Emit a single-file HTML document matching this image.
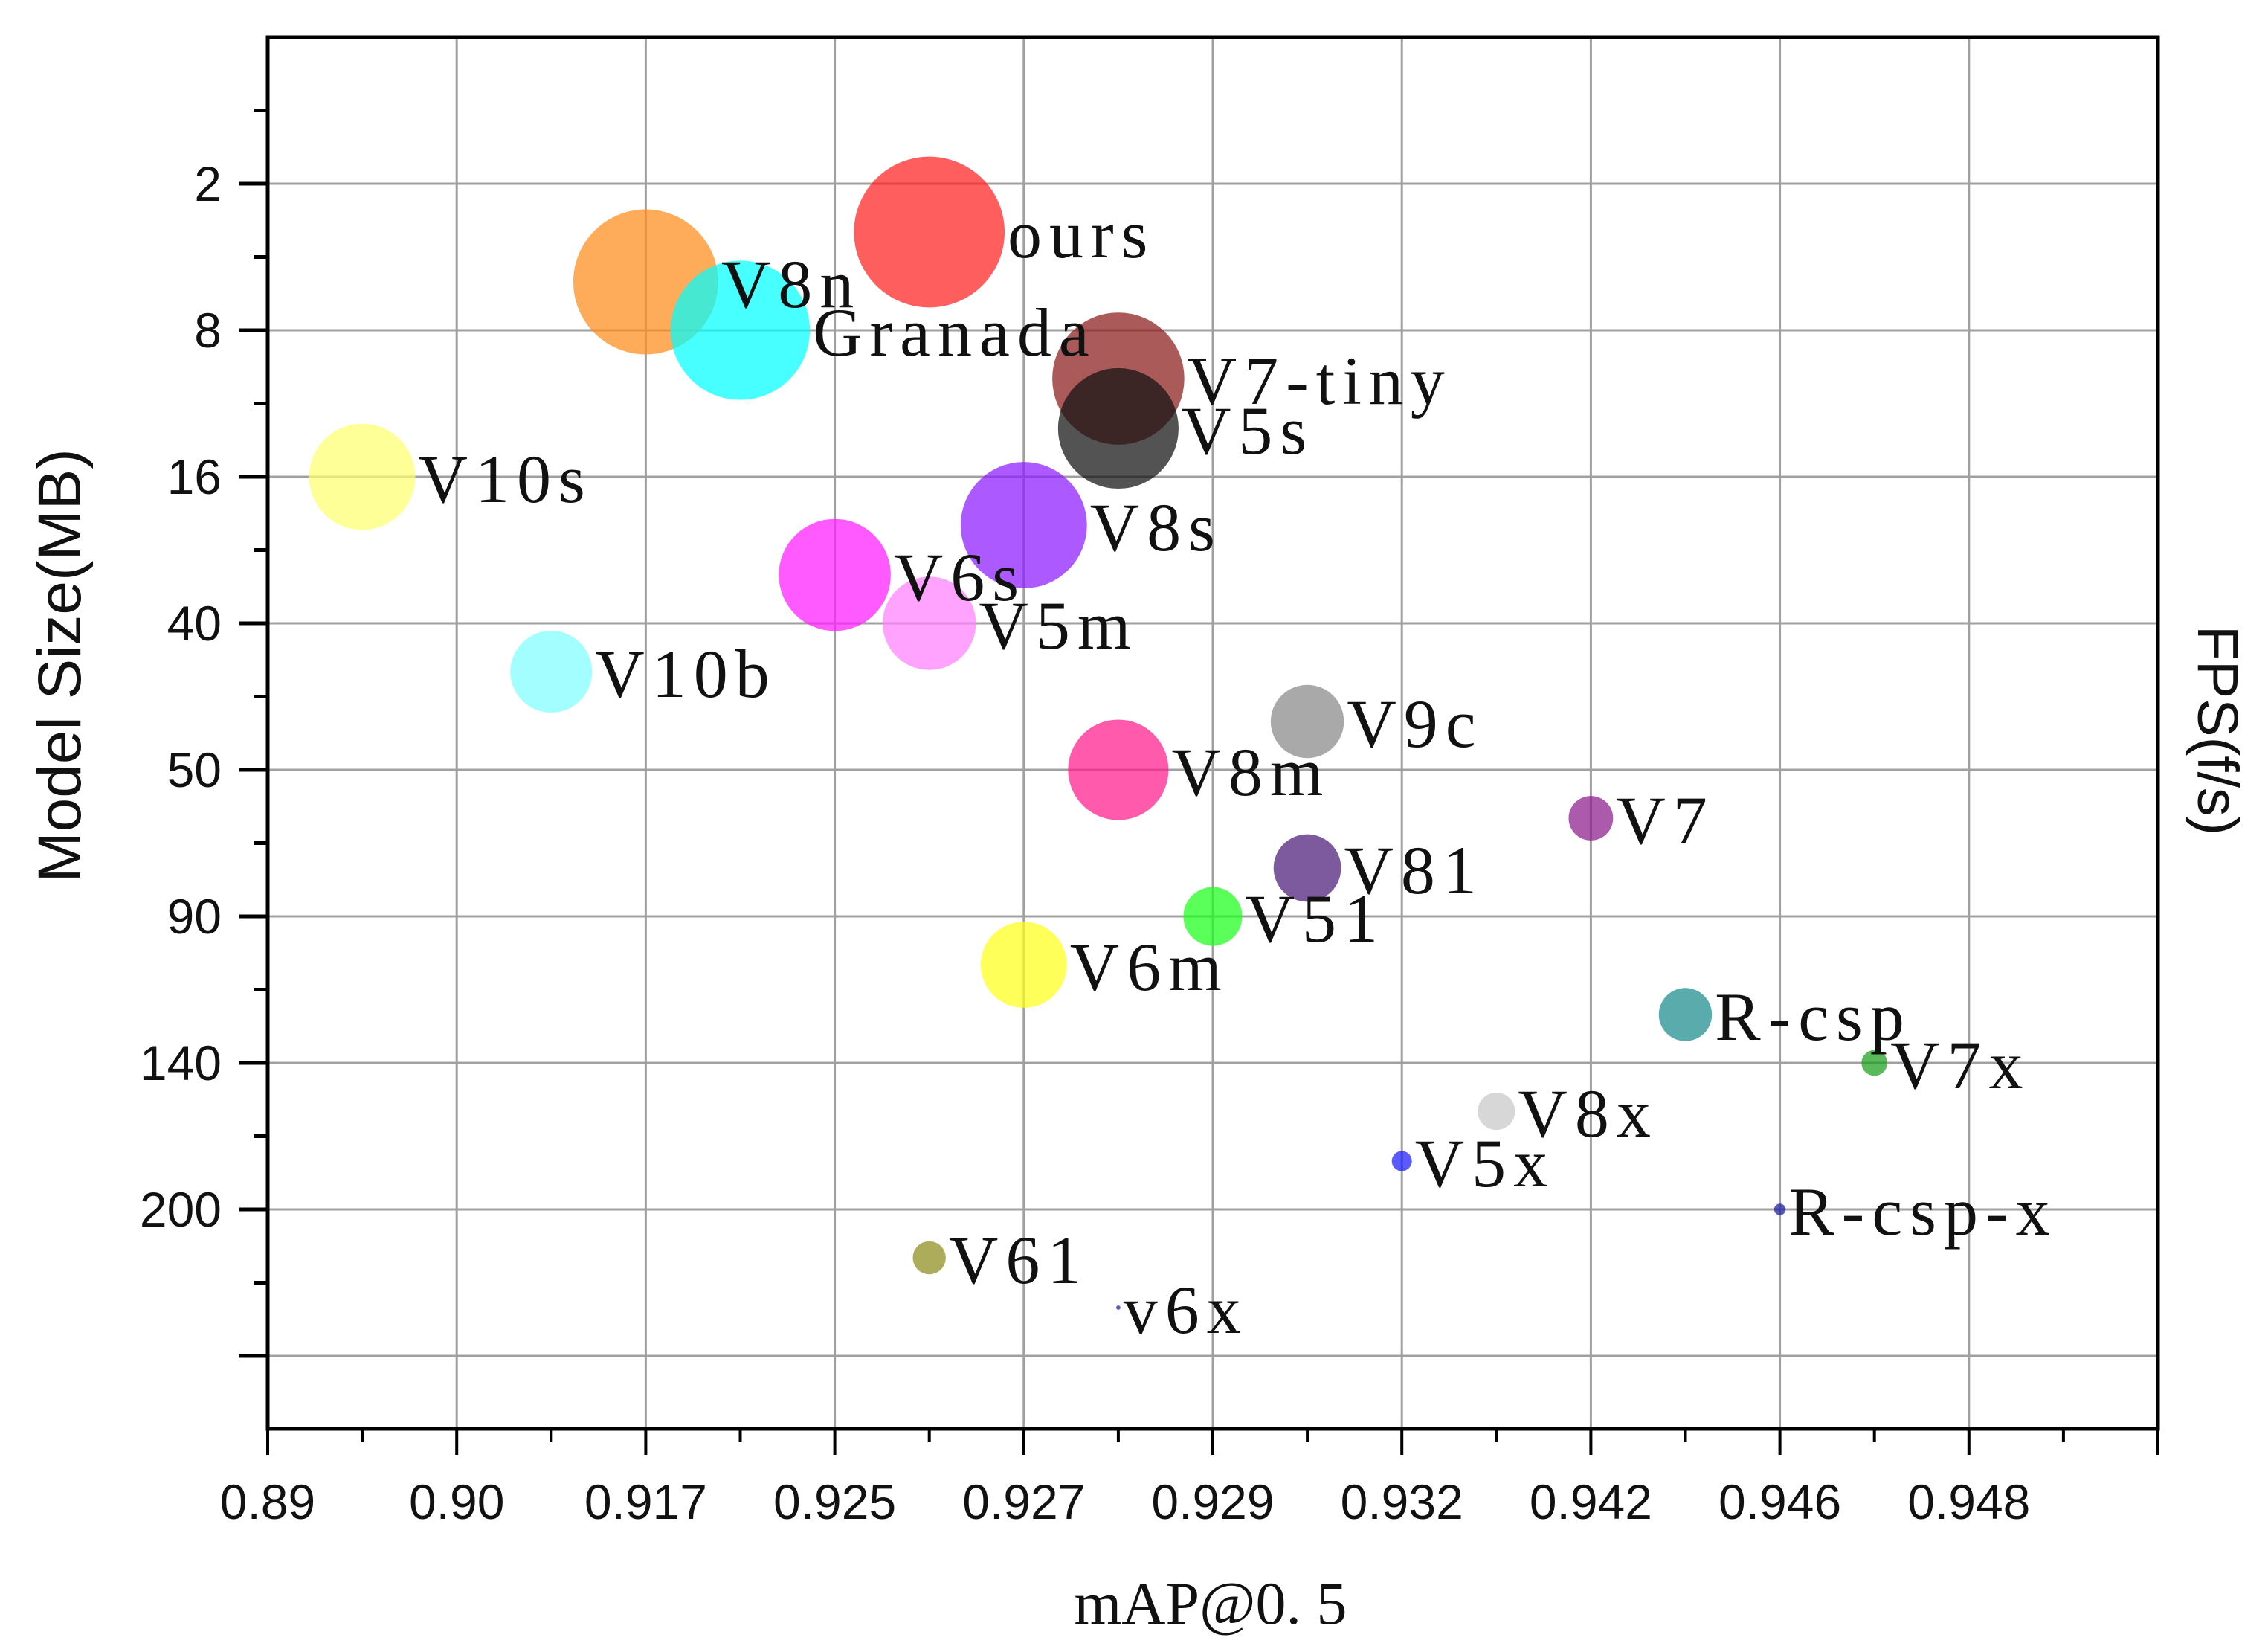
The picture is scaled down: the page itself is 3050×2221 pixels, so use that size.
<!DOCTYPE html>
<html><head><meta charset="utf-8"><style>
html,body{margin:0;padding:0;background:#fff;}
svg{display:block;}
</style></head><body>
<svg id="chart" width="3050" height="2221" viewBox="0 0 3050 2221" xmlns="http://www.w3.org/2000/svg">
<g id="grid"></g>
<g id="bubbles"></g>
<g id="labels"></g>
<g id="axes"></g>
<text transform="translate(108,895) rotate(-90)" text-anchor="middle" font-family="Liberation Sans, sans-serif" font-size="82" fill="#111">Model Size(MB)</text>
<text transform="translate(2956,982) rotate(90)" text-anchor="middle" font-family="Liberation Sans, sans-serif" font-size="77" fill="#111">FPS(f/s)</text>
<text x="1628" y="2183" text-anchor="middle" font-family="Liberation Serif, serif" font-size="82" fill="#111">mAP@0. 5</text>
</svg>
<script>
const xTickLabels = ["0.89","0.90","0.917","0.925","0.927","0.929","0.932","0.942","0.946","0.948"];
const yTickLabels = ["2","8","16","40","50","90","140","200"];
const names = ["ours","V8n","Granada","V7-tiny","V5s","V10s","V8s","V6s","V5m","V10b","V9c","V8m","V7","V81","V51","V6m","R-csp","V7x","V8x","V5x","R-csp-x","V61","v6x"];
const xIdx = [3.5,2.0,2.5,4.5,4.5,0.5,4.0,3.0,3.5,1.5,5.5,4.5,7.0,5.5,5.0,4.0,7.5,8.5,6.5,6.0,8.0,3.5,4.5];
const yIdx = [1.33,1.67,2.0,2.33,2.67,3.0,3.33,3.67,4.0,4.33,4.67,5.0,5.33,5.67,6.0,6.33,6.67,7.0,7.33,7.67,8.0,8.33,8.67];
const fps = [105,101,97,92,84,74,88,78,65,57,51,70,31,47,41,60,37,18,26,14,8,23,3];
const colors = ["#ff2020","#ff8c1a","#00ffff","#8b1a1a","#111111","#ffff70","#8c1aff","#ff1aff","#ff80ff","#80ffff","#888888","#ff1a8c","#8c1a8c","#4b1a78","#1aff1a","#ffff1a","#1a8c8c","#1a9e1a","#c8c8c8","#1a1aff","#1a1a9e","#8c8c1a","#1a1a9e"];

const L=360,R=2902,T=50,B=1921,XS=254.2,YS=197;
const xPos=i=>L+i*XS;
const yPos=k=>T+k*YS;
const rad=v=>v*0.965;
const NS="http://www.w3.org/2000/svg";
function mk(tag,attrs,parent){const e=document.createElementNS(NS,tag);for(const k in attrs)e.setAttribute(k,attrs[k]);parent.appendChild(e);return e;}
const grid=document.getElementById('grid'),axes=document.getElementById('axes'),bub=document.getElementById('bubbles'),lab=document.getElementById('labels');

for(let i=1;i<=9;i++){
  const g=mk('line',{x1:xPos(i),x2:xPos(i),y1:T,y2:B,stroke:'#a0a0a0','stroke-width':3},grid);
  
  
}
for(let k=1;k<=9;k++){
  const g=mk('line',{x1:L,x2:R,y1:yPos(k),y2:yPos(k),stroke:'#a0a0a0','stroke-width':3},grid);
  
  
}
for(let i=0;i<names.length;i++){
  const c=mk('circle',{cx:xPos(xIdx[i]),cy:yPos(yIdx[i]),r:rad(fps[i]),fill:colors[i],'fill-opacity':0.72},bub);
  
  
  const t=mk('text',{x:xPos(xIdx[i])+rad(fps[i])+4,y:yPos(yIdx[i])+34,'font-family':'Liberation Serif, serif','font-size':92,'letter-spacing':10,fill:'#111'},lab);
  t.textContent=names[i];
  
  
}
[[L,T,R,T],[L,B,R,B],[L,T,L,B],[R,T,R,B]].forEach(a=>{
  const l=mk('line',{x1:a[0],y1:a[1],x2:a[2],y2:a[3],stroke:'#000','stroke-width':5,'stroke-linecap':'square'},axes);
  
  
});
for(let h=0;h<=20;h++){
  const i=h/2,len=(h%2===0)?35:18;
  const t=mk('line',{x1:xPos(i),x2:xPos(i),y1:B,y2:B+len,stroke:'#000','stroke-width':4},axes);
  
  
}
xTickLabels.forEach((s,i)=>{
  const t=mk('text',{x:xPos(i),y:2042,'text-anchor':'middle','font-family':'Liberation Sans, sans-serif','font-size':66,fill:'#111'},axes);
  t.textContent=s;
  
  
});
for(let h=1;h<=19;h++){
  const k=h/2,len=(h%2===0)?38:19;
  if(yPos(k)>B) break;
  const t=mk('line',{x1:L-len,x2:L,y1:yPos(k),y2:yPos(k),stroke:'#000','stroke-width':5},axes);
  
  
}
yTickLabels.forEach((s,i)=>{
  const t=mk('text',{x:298,y:yPos(i+1)+23,'text-anchor':'end','font-family':'Liberation Sans, sans-serif','font-size':66,fill:'#111'},axes);
  t.textContent=s;
  
  
});
</script>
</body></html>
